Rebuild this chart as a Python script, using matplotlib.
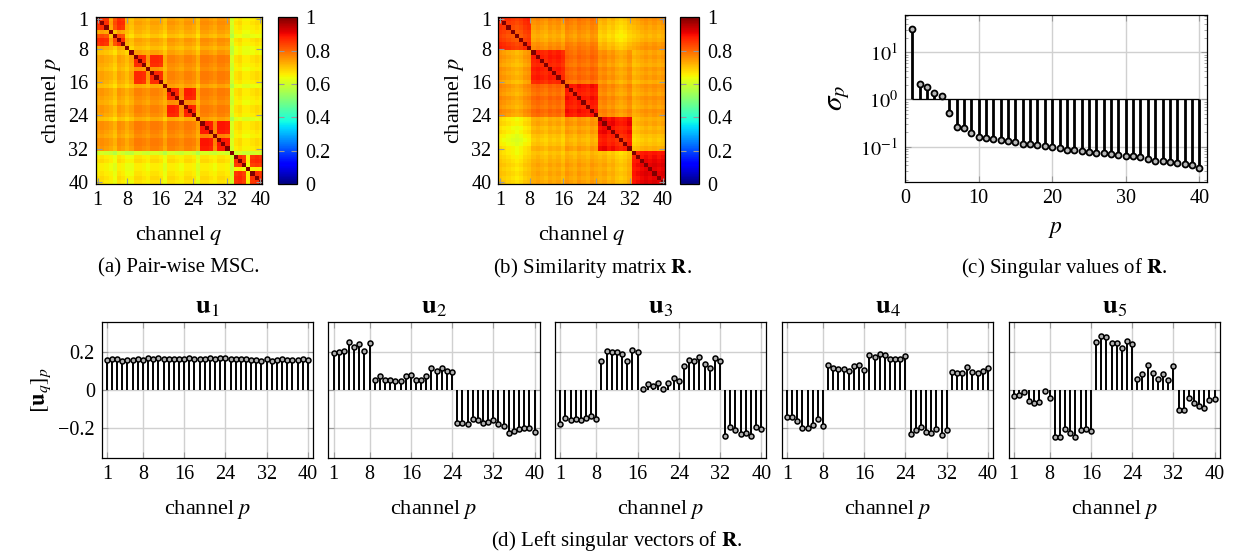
"""Pair-wise MSC, similarity matrix R, singular values and left singular vectors."""
import numpy as np
import matplotlib
matplotlib.use("Agg")
import matplotlib.pyplot as plt

plt.rcParams["font.family"] = ["Liberation Serif", "DejaVu Serif"]
plt.rcParams["mathtext.fontset"] = "stix"
plt.rcParams["font.size"] = 14.5

# ---- data ----
channels = np.arange(1, 41)
channel_ticks = [1, 8, 16, 24, 32, 40]

# (a) pair-wise MSC: block levels (5 groups of 8 channels), hot pairs, channel offsets
msc_block = [
    [0.74, 0.72, 0.73, 0.74, 0.66],
    [0.72, 0.75, 0.75, 0.76, 0.66],
    [0.73, 0.75, 0.76, 0.76, 0.66],
    [0.74, 0.76, 0.76, 0.77, 0.66],
    [0.66, 0.66, 0.66, 0.66, 0.66],
]
msc_hot_channels = [
    [1, 2, 3, 5, 6, 7],
    [10, 11, 12, 14, 15, 16],
    [18, 19, 20, 22, 23, 24],
    [26, 27, 28, 30, 31, 32],
    [34, 35, 36, 38, 39, 40],
]
msc_hot_level = [0.85, 0.85, 0.86, 0.87, 0.85]
msc_offset = [
    0.00, 0.01, 0.00, -0.01, -0.03, 0.01, 0.00, -0.02,
    -0.02, 0.01, 0.01, 0.00, -0.01, 0.01, 0.01, 0.00,
    -0.03, 0.01, 0.01, 0.00, -0.01, 0.01, 0.01, 0.00,
    -0.04, 0.01, 0.01, 0.00, -0.01, 0.01, 0.01, 0.00,
    -0.06, 0.00, 0.01, -0.01, -0.01, 0.00, 0.01, 0.00,
]

# (b) similarity matrix R
r_block = [
    [0.86, 0.75, 0.77, 0.71, 0.74],
    [0.74, 0.87, 0.79, 0.75, 0.73],
    [0.75, 0.79, 0.88, 0.76, 0.74],
    [0.67, 0.72, 0.74, 0.90, 0.72],
    [0.69, 0.72, 0.73, 0.72, 0.90],
]
r_offset = [
    0.01, 0.00, -0.01, -0.02, -0.03, -0.02, 0.00, 0.01,
    0.00, 0.01, 0.00, -0.01, 0.01, 0.00, 0.01, -0.01,
    0.01, 0.00, -0.01, 0.01, 0.00, -0.01, 0.01, 0.00,
    0.00, 0.01, -0.01, 0.00, -0.02, -0.03, -0.02, 0.00,
    -0.02, -0.01, 0.00, 0.01, 0.00, 0.01, 0.00, 0.01,
]

# (c) singular values of R
sigma = [31.2, 2.11, 1.86, 1.34, 1.20, 0.505, 0.255, 0.243, 0.196, 0.162,
         0.151, 0.144, 0.137, 0.133, 0.123, 0.115, 0.111, 0.106, 0.101, 0.096,
         0.0915, 0.0857, 0.083, 0.079, 0.0758, 0.0726, 0.0716, 0.0682, 0.065, 0.064,
         0.062, 0.059, 0.0536, 0.050, 0.0493, 0.0478, 0.0447, 0.0426, 0.0405, 0.0359]

# (d) left singular vectors u1..u5
u1 = [0.157, 0.162, 0.162, 0.151, 0.157, 0.155, 0.162, 0.158, 0.165, 0.162,
      0.165, 0.163, 0.160, 0.163, 0.163, 0.160, 0.165, 0.163, 0.163, 0.163,
      0.165, 0.160, 0.167, 0.165, 0.163, 0.162, 0.162, 0.162, 0.158, 0.158,
      0.153, 0.163, 0.153, 0.157, 0.160, 0.158, 0.158, 0.157, 0.163, 0.157]
u2 = [0.191, 0.198, 0.205, 0.252, 0.226, 0.240, 0.205, 0.243, 0.054, 0.073,
      0.054, 0.052, 0.049, 0.049, 0.073, 0.078, 0.052, 0.054, 0.073, 0.113,
      0.097, 0.113, 0.101, 0.096, -0.170, -0.170, -0.177, -0.153, -0.158, -0.172,
      -0.165, -0.158, -0.176, -0.186, -0.223, -0.212, -0.203, -0.197, -0.197, -0.219]
u3 = [-0.179, -0.146, -0.158, -0.153, -0.157, -0.148, -0.136, -0.150, 0.150, 0.202,
      0.197, 0.197, 0.188, 0.151, 0.209, 0.200, 0.007, 0.031, 0.021, 0.038,
      0.003, 0.037, 0.063, 0.047, 0.127, 0.158, 0.150, 0.174, 0.137, 0.113,
      0.165, 0.151, -0.238, -0.193, -0.210, -0.228, -0.224, -0.240, -0.193, -0.205]
u4 = [-0.143, -0.139, -0.163, -0.197, -0.197, -0.184, -0.150, -0.186, 0.129, 0.117,
      0.111, 0.110, 0.099, 0.125, 0.129, 0.104, 0.184, 0.174, 0.190, 0.184,
      0.163, 0.163, 0.163, 0.179, -0.228, -0.209, -0.191, -0.221, -0.226, -0.203,
      -0.237, -0.210, 0.094, 0.089, 0.089, 0.118, 0.096, 0.090, 0.097, 0.115]
u5 = [-0.033, -0.024, -0.010, -0.057, -0.068, -0.061, -0.007, -0.040, -0.245, -0.245,
      -0.202, -0.226, -0.243, -0.209, -0.203, -0.212, 0.249, 0.283, 0.278, 0.245,
      0.243, 0.217, 0.257, 0.238, 0.059, 0.085, 0.132, 0.090, 0.057, 0.082,
      0.052, 0.125, -0.103, -0.103, -0.042, -0.070, -0.082, -0.096, -0.050, -0.045]
u_vectors = [u1, u2, u3, u4, u5]

W, H = 1234, 556
TICK_GRAY = "#9a9a9a"
GRID_GRAY = "#d0d0d0"


def build_matrix(block, offset, hot_channels=None, hot_level=None):
    """40x40 matrix from group levels, channel offsets and hot channel sets."""
    n = len(offset)
    grp = (np.arange(n) // 8)
    off = np.asarray(offset)
    M = np.asarray(block)[grp[:, None], grp[None, :]] + off[:, None] + off[None, :]
    if hot_channels is not None:
        for g, chs in enumerate(hot_channels):
            idx = np.asarray(chs) - 1
            M[np.ix_(idx, idx)] = hot_level[g] + off[idx][:, None] + off[idx][None, :]
    np.fill_diagonal(M, 1.0)
    return np.clip(M, 0, 1)


fig = plt.figure(figsize=(W / 100, H / 100), dpi=100)


def px_axes(x0, y0, x1, y1):
    return fig.add_axes([x0 / W, 1 - y1 / H, (x1 - x0) / W, (y1 - y0) / H])


def style_ticks(ax):
    ax.tick_params(which="both", direction="in", color=TICK_GRAY,
                   top=True, right=True, length=4, pad=5)
    for s in ax.spines.values():
        s.set_linewidth(0.9)


def heatmap(box, cbox, M, caption, cap_x):
    ax = px_axes(*box)
    im = ax.imshow(M, cmap="jet", vmin=0, vmax=1, extent=(0.5, 40.5, 40.5, 0.5),
                   aspect="auto", interpolation="nearest")
    ax.set_xticks(channel_ticks)
    ax.set_yticks(channel_ticks)
    style_ticks(ax)
    ax.set_xlabel("channel $q$", labelpad=10, fontsize=16)
    ax.set_ylabel("channel $p$", labelpad=4, fontsize=16)
    cax = px_axes(*cbox)
    cb = fig.colorbar(im, cax=cax, ticks=[0, 0.2, 0.4, 0.6, 0.8, 1])
    cb.ax.set_yticklabels(["0", "0.2", "0.4", "0.6", "0.8", "1"])
    cb.ax.tick_params(direction="in", color=TICK_GRAY, left=True, right=True,
                      length=4, pad=6)
    cb.outline.set_linewidth(0.9)
    fig.text(cap_x / W, 1 - 268 / H, caption, ha="center", va="center", fontsize=15)
    return ax


heatmap((95.5, 17.3, 262.3, 184), (278, 17.3, 297, 184),
        build_matrix(msc_block, msc_offset, msc_hot_channels, msc_hot_level),
        "(a) Pair-wise MSC.", 179)
heatmap((498.3, 17.3, 665, 184), (680, 17.3, 699, 184),
        build_matrix(r_block, r_offset),
        r"(b) Similarity matrix $\mathbf{R}$.", 592)

# (c) singular values
ax = px_axes(905, 15, 1206.7, 181.7)
ax.set_yscale("log")
ax.vlines(channels, 1, sigma, color="k", lw=2.0, zorder=3)
ax.hlines(1, 1, 40, color="k", lw=0.9, zorder=3)
ax.plot(channels, sigma, "o", ms=4.3, mfc="#b8b8b8", mec="k", mew=1.3, zorder=4)
ax.set_xlim(0, 41)
ax.set_ylim(0.018, 62)
ax.set_xticks([0, 10, 20, 30, 40])
ax.set_yticks([0.1, 1, 10])
ax.set_yticklabels([r"$10^{-1}$", r"$10^{0}$", r"$10^{1}$"])
ax.grid(True, which="major", color=GRID_GRAY, lw=1.0)
ax.set_axisbelow(True)
style_ticks(ax)
ax.tick_params(which="minor", length=2.5)
ax.set_xlabel("$p$", fontsize=17, labelpad=8)
ax.set_ylabel(r"$\sigma_p$", fontsize=21, labelpad=6)
fig.text(1064 / W, 1 - 268 / H, r"(c) Singular values of $\mathbf{R}$.",
         ha="center", va="center", fontsize=15)

# (d) left singular vectors
for k, u in enumerate(u_vectors):
    x0 = 101.7 + k * 226.7
    ax = px_axes(x0, 322, x0 + 211.3, 458)
    ax.vlines(channels, 0, u, color="k", lw=1.4, zorder=3)
    ax.plot(channels, u, "o", ms=3.6, mfc="#b0b0b0", mec="k", mew=1.1, zorder=4)
    ax.set_xlim(0, 41)
    ax.set_ylim(-0.355, 0.355)
    ax.set_xticks(channel_ticks)
    ax.set_yticks([-0.2, 0, 0.2])
    ax.grid(True, color=GRID_GRAY, lw=1.0)
    ax.set_axisbelow(True)
    style_ticks(ax)
    if k == 0:
        ax.set_yticklabels(["\u22120.2", "0", "0.2"])
        ax.set_ylabel(r"$[\mathbf{u}_q]_p$", fontsize=16, labelpad=4)
    else:
        ax.set_yticklabels([])
    ax.set_xlabel("channel $p$", fontsize=16, labelpad=10)
    ax.set_title(r"$\mathbf{u}_%d$" % (k + 1), fontsize=19, pad=6)

fig.text(617 / W, 1 - 541 / H, r"(d) Left singular vectors of $\mathbf{R}$.",
         ha="center", va="center", fontsize=15)

fig.savefig("out.png", dpi=100)
